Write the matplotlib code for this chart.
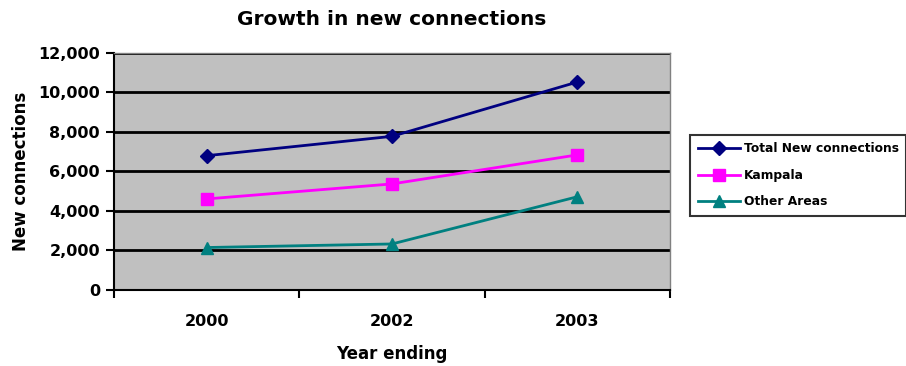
import matplotlib.pyplot as plt
from matplotlib.ticker import FuncFormatter

plt.rcParams['font.family'] = ['DejaVu Sans']
plt.rcParams['font.weight'] = 'bold'

years = ['2000', '2002', '2003']
total_new = [6800, 7780, 10530]
kampala = [4610, 5370, 6840]
other_areas = [2150, 2330, 4720]

fig = plt.figure(figsize=(9.06, 3.66), dpi=100)
ax = fig.add_axes([0.1258, 0.2077, 0.6137, 0.6475])
ax.set_facecolor('#C0C0C0')

x = range(len(years))
ax.plot(x, total_new, color='#000080', marker='D', markersize=7, linewidth=2, label='Total New connections')
ax.plot(x, kampala, color='#FF00FF', marker='s', markersize=8, linewidth=2, label='Kampala')
ax.plot(x, other_areas, color='#008080', marker='^', markersize=8, linewidth=2, label='Other Areas')

ax.set_xlim(-0.5, 2.5)
ax.set_ylim(0, 12000)
ax.set_yticks(range(0, 12001, 2000))
ax.yaxis.set_major_formatter(FuncFormatter(lambda v, p: f'{int(v):,}'))
ax.yaxis.grid(True, color='black', linewidth=2)
ax.set_axisbelow(True)

# category boundaries get the ticks, labels sit between them
ax.set_xticks([-0.5, 0.5, 1.5, 2.5])
ax.set_xticklabels([])
ax.set_xticks(list(x), minor=True)
ax.set_xticklabels(years, minor=True)
ax.tick_params(axis='x', which='minor', length=0, pad=17, labelsize=11.5)
ax.tick_params(axis='x', which='major', direction='out', length=6, width=1.5)
ax.tick_params(axis='y', direction='out', length=6, width=1.5, labelsize=11.5, pad=4)

for side in ['top', 'right']:
    ax.spines[side].set_color('#808080')
    ax.spines[side].set_linewidth(1)
for side in ['left', 'bottom']:
    ax.spines[side].set_color('black')
    ax.spines[side].set_linewidth(1.5)

ax.set_title('Growth in new connections', fontsize=14.5, fontweight='bold', pad=20)
ax.set_xlabel('Year ending', fontsize=12, fontweight='bold', labelpad=12)
ax.set_ylabel('New connections', fontsize=12, fontweight='bold', labelpad=6)

leg = fig.legend(loc='upper left', bbox_to_anchor=(0.762, 0.631), fontsize=8.8,
                 frameon=True, fancybox=False, edgecolor='black', handlelength=3.5,
                 borderaxespad=0, borderpad=0.6, labelspacing=1.1, handletextpad=0.3)
leg.get_frame().set_linewidth(1.5)

fig.savefig('out.png', dpi=100)
